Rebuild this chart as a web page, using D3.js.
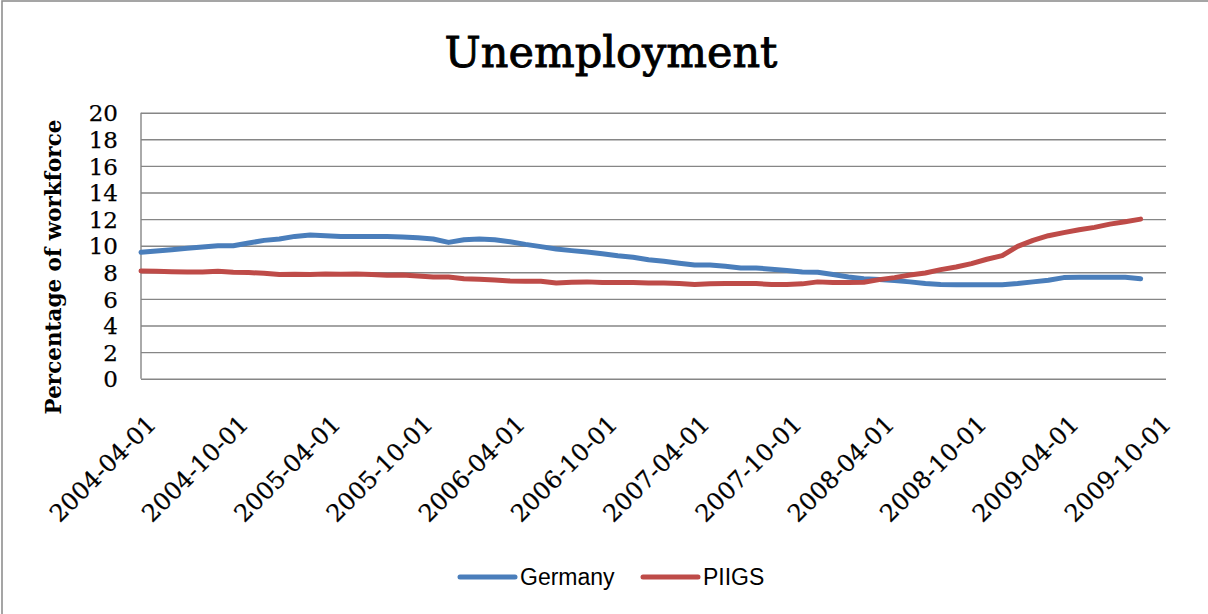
<!DOCTYPE html>
<html>
<head>
<meta charset="utf-8">
<script src="https://cdn.jsdelivr.net/npm/d3@7"></script>
<style>
  html, body { margin: 0; padding: 0; background: #fff; overflow: hidden; }
  svg { display: block; }
</style>
</head>
<body>
<svg id="chart" width="1208" height="614"></svg>
<script>
const months = [
  "2004-04-01","2004-05-01","2004-06-01","2004-07-01","2004-08-01","2004-09-01",
  "2004-10-01","2004-11-01","2004-12-01","2005-01-01","2005-02-01","2005-03-01",
  "2005-04-01","2005-05-01","2005-06-01","2005-07-01","2005-08-01","2005-09-01",
  "2005-10-01","2005-11-01","2005-12-01","2006-01-01","2006-02-01","2006-03-01",
  "2006-04-01","2006-05-01","2006-06-01","2006-07-01","2006-08-01","2006-09-01",
  "2006-10-01","2006-11-01","2006-12-01","2007-01-01","2007-02-01","2007-03-01",
  "2007-04-01","2007-05-01","2007-06-01","2007-07-01","2007-08-01","2007-09-01",
  "2007-10-01","2007-11-01","2007-12-01","2008-01-01","2008-02-01","2008-03-01",
  "2008-04-01","2008-05-01","2008-06-01","2008-07-01","2008-08-01","2008-09-01",
  "2008-10-01","2008-11-01","2008-12-01","2009-01-01","2009-02-01","2009-03-01",
  "2009-04-01","2009-05-01","2009-06-01","2009-07-01","2009-08-01","2009-09-01"
];
const germany = [
  9.5, 9.6, 9.7, 9.8, 9.9, 10.0,
  10.0, 10.2, 10.4, 10.5, 10.7, 10.8,
  10.75, 10.7, 10.7, 10.7, 10.7, 10.65,
  10.6, 10.5, 10.25, 10.45, 10.5, 10.45,
  10.3, 10.1, 9.93, 9.75, 9.63, 9.53,
  9.4, 9.25, 9.13, 8.95, 8.83, 8.68,
  8.55, 8.55, 8.45, 8.33, 8.33, 8.23,
  8.13, 8.03, 8.0, 7.83, 7.65, 7.52,
  7.45, 7.38, 7.28, 7.15, 7.08, 7.07,
  7.07, 7.07, 7.07, 7.15, 7.28, 7.4,
  7.6, 7.62, 7.62, 7.62, 7.62, 7.52
];
const piigs = [
  8.1, 8.08, 8.05, 8.02, 8.02, 8.07,
  8.0, 7.98, 7.93, 7.83, 7.85, 7.83,
  7.88, 7.85, 7.88, 7.83, 7.78, 7.8,
  7.72, 7.65, 7.65, 7.52, 7.47, 7.42,
  7.35, 7.33, 7.33, 7.2, 7.25, 7.28,
  7.23, 7.23, 7.23, 7.2, 7.2, 7.15,
  7.08, 7.13, 7.15, 7.15, 7.15, 7.08,
  7.08, 7.13, 7.28, 7.23, 7.23, 7.25,
  7.45, 7.6, 7.8, 7.95, 8.2, 8.4,
  8.65, 8.98, 9.25, 9.95, 10.4, 10.75,
  10.98, 11.2, 11.38, 11.62, 11.8, 12.0
];
const xTickLabels = [
  "2004-04-01","2004-10-01","2005-04-01","2005-10-01","2006-04-01","2006-10-01",
  "2007-04-01","2007-10-01","2008-04-01","2008-10-01","2009-04-01","2009-10-01"
];
const yTicks = [0, 2, 4, 6, 8, 10, 12, 14, 16, 18, 20];
const seriesNames = ["Germany", "PIIGS"];
const seriesColors = ["#4A7EBB", "#BE4B48"];

const svg = d3.select("#chart");
const L = 141, R = 1166, T = 112.7, B = 378.7;

const parseDate = d3.timeParse("%Y-%m-%d");
const d0 = parseDate(months[0]);
const tickIndex = xTickLabels.map(s => d3.timeMonth.count(d0, parseDate(s)));

const x = d3.scaleLinear().domain([0, 66.65]).range([L, R]);
const y = d3.scaleLinear().domain([0, 20]).range([B, T]);

// outer frame (top and left edges visible)
svg.append("rect").attr("x", 2).attr("y", 1).attr("width", 1300).attr("height", 700)
  .attr("fill", "none").attr("stroke", "#8f8f8f").attr("stroke-width", 1.6);

// title
svg.append("text").attr("x", 611).attr("y", 67).attr("text-anchor", "middle")
  .attr("font-family", "DejaVu Serif").attr("font-size", 43)
  .attr("fill", "#000").attr("stroke", "#000").attr("stroke-width", 0.9)
  .text("Unemployment");

// gridlines + y tick labels
const yAxis = d3.axisLeft(y).tickValues(yTicks).tickSize(-(R - L)).tickPadding(23)
  .tickFormat(d3.format("d"));
const gy = svg.append("g").attr("transform", `translate(${L},0)`).call(yAxis);
gy.select(".domain").remove();
gy.selectAll(".tick line").attr("stroke", "#868686").attr("stroke-width", 1.4);
gy.selectAll(".tick text").attr("font-family", "DejaVu Serif").attr("font-size", 23)
  .attr("fill", "#000").attr("stroke", "#000").attr("stroke-width", 0.25)
  .attr("dy", "0.36em");

// left axis line
svg.append("line").attr("x1", L).attr("x2", L).attr("y1", T).attr("y2", B)
  .attr("stroke", "#868686").attr("stroke-width", 1.4);

// x axis labels
const xAxis = d3.axisBottom(x).tickValues(tickIndex).tickSize(0)
  .tickFormat((d, i) => xTickLabels[i]);
const gx = svg.append("g").attr("transform", `translate(0,${B})`).call(xAxis);
gx.select(".domain").remove();
gx.selectAll(".tick text")
  .attr("font-family", "DejaVu Serif").attr("font-size", 24).attr("fill", "#000")
  .attr("stroke", "#000").attr("stroke-width", 0.25)
  .attr("text-anchor", "end").attr("dy", null).attr("y", 0)
  .attr("transform", "translate(16,47) rotate(-45)");

// y axis title
svg.append("text").attr("transform", "translate(61,267) rotate(-90)")
  .attr("text-anchor", "middle").attr("font-family", "DejaVu Serif")
  .attr("font-weight", "bold").attr("font-size", 21.5).attr("fill", "#000")
  .text("Percentage of workforce");

// lines
const line = d3.line().x((d, i) => x(i)).y(d => y(d));
[germany, piigs].forEach((s, k) => {
  svg.append("path").datum(s).attr("d", line).attr("fill", "none")
    .attr("stroke", seriesColors[k]).attr("stroke-width", 5)
    .attr("stroke-linejoin", "round").attr("stroke-linecap", "round");
});

// legend
const legendX = [460, 643];
seriesNames.forEach((n, k) => {
  const g = svg.append("g").attr("transform", `translate(${legendX[k]},577)`);
  g.append("line").attr("x1", 0).attr("x2", 55).attr("y1", 0).attr("y2", 0)
    .attr("stroke", seriesColors[k]).attr("stroke-width", 5).attr("stroke-linecap", "round");
  g.append("text").attr("x", 60).attr("y", 0).attr("dy", "0.35em")
    .attr("font-family", "Liberation Sans").attr("font-size", 23).attr("fill", "#000")
    .text(n);
});
</script>
</body>
</html>
